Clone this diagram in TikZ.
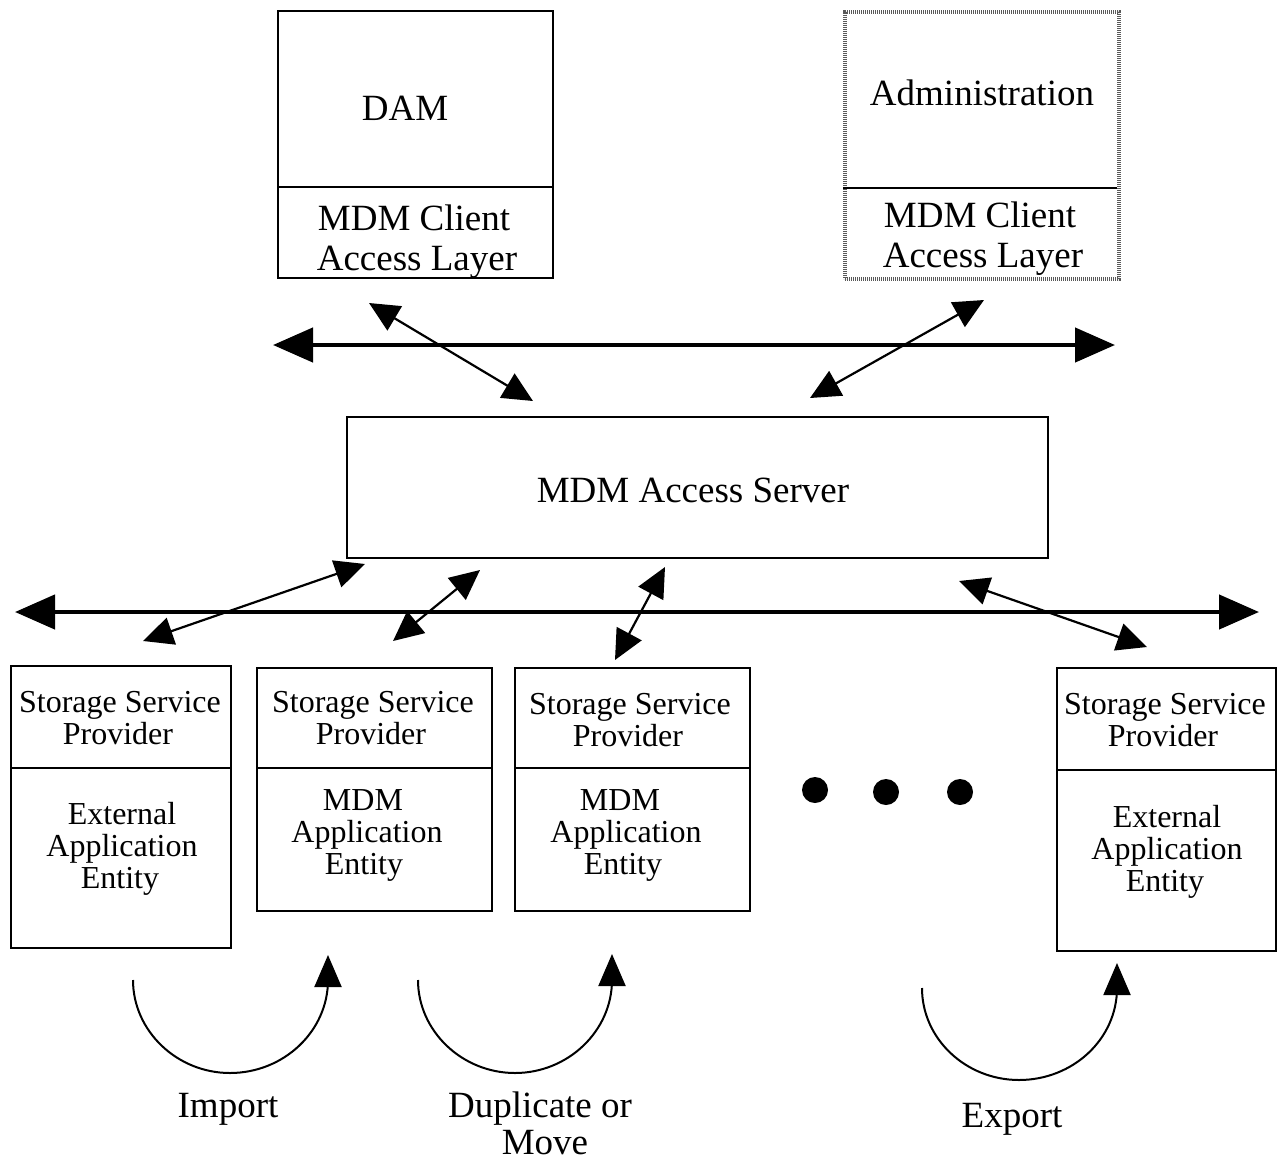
\documentclass[tikz,border=0pt]{standalone}
\usepackage{fontspec}
\setmainfont{Liberation Serif}
\usetikzlibrary{arrows.meta}
\begin{document}
\begin{tikzpicture}[x=1pt,y=-1pt,
 big/.style={font=\fontsize{37}{40}\selectfont},
 small/.style={font=\fontsize{32}{32}\selectfont},
 txt/.style={anchor=base, inner sep=0pt},
 box/.style={draw, line width=2pt, anchor=north west, inner sep=0pt, rectangle},
 dotbox/.style={draw=black!65, line width=3.5pt, dash pattern=on 1.2pt off 0.8pt, anchor=north west, inner sep=0pt, rectangle},
 divider/.style={line width=2pt},
 bus/.style={line width=4.5pt, {Triangle[length=40pt,width=34pt]}-{Triangle[length=40pt,width=34pt]}},
 link/.style={line width=2.2pt, {Triangle[length=30pt,width=28pt]}-{Triangle[length=30pt,width=28pt]}},
 turn/.style={line width=2pt, -{Triangle[length=32pt,width=27pt]}},
 dot/.style={circle, fill, inner sep=0pt, minimum size=26pt}]
\useasboundingbox (0,0) rectangle (1278,1160);

% top boxes
\node[box, minimum width=275, minimum height=267] (dam) at (277,10) {};
\draw[divider] (277,187) -- (552,187);
\node[txt, big] (damt) at (405,120) {DAM};
\node[txt, big] (damc1) at (414,230) {MDM Client};
\node[txt, big] (damc2) at (417,270) {Access Layer};

\node[dotbox, minimum width=274, minimum height=267] (adm) at (843,10) {};
\draw[divider] (843,188) -- (1117,188);
\node[txt, big] (admt) at (982,105) {Administration};
\node[txt, big] (admc1) at (980,227) {MDM Client};
\node[txt, big] (admc2) at (983,267) {Access Layer};

% server
\node[box, minimum width=701, minimum height=141] (srv) at (346,416) {};
\node[txt, big] (srvt) at (693,502) {MDM Access Server};

% buses
\coordinate (tbl) at (273,345); \coordinate (tbr) at (1115,345);
\draw[bus] (tbl) -- (tbr);
\coordinate (bbl) at (15,612); \coordinate (bbr) at (1259,612);
\draw[bus] (bbl) -- (bbr);

% links
\coordinate (l1a) at (369,303); \coordinate (l1b) at (533,401);
\draw[link] (l1a) -- (l1b);
\coordinate (l2a) at (984,300); \coordinate (l2b) at (810,398);
\draw[link] (l2a) -- (l2b);
\coordinate (l3a) at (365,564); \coordinate (l3b) at (143,641);
\draw[link] (l3a) -- (l3b);
\coordinate (l4a) at (480,570); \coordinate (l4b) at (393,641);
\draw[link] (l4a) -- (l4b);
\coordinate (l5a) at (665,567); \coordinate (l5b) at (615,660);
\draw[link] (l5a) -- (l5b);
\coordinate (l6a) at (959,581); \coordinate (l6b) at (1147,647);
\draw[link] (l6a) -- (l6b);

% bottom boxes
\node[box, minimum width=220, minimum height=282] (b1) at (10,665) {};
\draw[divider] (10,768) -- (230,768);
\node[txt, small] at (120,712) {Storage Service};
\node[txt, small] at (118,744) {Provider};
\node[txt, small] at (122,824) {External};
\node[txt, small] at (122,856) {Application};
\node[txt, small] at (120,888) {Entity};

\node[box, minimum width=235, minimum height=243] (b2) at (256,667) {};
\draw[divider] (256,768) -- (491,768);
\node[txt, small] at (373,712) {Storage Service};
\node[txt, small] at (371,744) {Provider};
\node[txt, small] at (363,810) {MDM};
\node[txt, small] at (367,842) {Application};
\node[txt, small] at (364,874) {Entity};

\node[box, minimum width=235, minimum height=243] (b3) at (514,667) {};
\draw[divider] (514,768) -- (749,768);
\node[txt, small] at (630,714) {Storage Service};
\node[txt, small] at (628,746) {Provider};
\node[txt, small] at (620,810) {MDM};
\node[txt, small] at (626,842) {Application};
\node[txt, small] at (623,874) {Entity};

\node[box, minimum width=219, minimum height=283] (b4) at (1056,667) {};
\draw[divider] (1056,770) -- (1275,770);
\node[txt, small] at (1165,714) {Storage Service};
\node[txt, small] at (1163,746) {Provider};
\node[txt, small] at (1167,827) {External};
\node[txt, small] at (1167,859) {Application};
\node[txt, small] at (1165,891) {Entity};

% dots
\node[dot] (d1) at (815,790) {};
\node[dot] (d2) at (886,792) {};
\node[dot] (d3) at (960,792) {};

% curved arrows
\coordinate (i0) at (133,980); \coordinate (i1) at (328,955);
\draw[turn] (i0) .. controls (133,1031) and (177,1073) .. (230,1073)
  .. controls (284,1073) and (328,1031) .. (328,980) -- (i1);
\node[txt, big] (imp) at (228,1117) {Import};

\coordinate (m0) at (418,980); \coordinate (m1) at (612,954);
\draw[turn] (m0) .. controls (418,1031) and (462,1073) .. (515,1073)
  .. controls (568,1073) and (612,1031) .. (612,980) -- (m1);
\node[txt, big] (dup1) at (540,1117) {Duplicate or};
\node[txt, big] (dup2) at (545,1154) {Move};

\coordinate (e0) at (922,988); \coordinate (e1) at (1117,963);
\draw[turn] (e0) .. controls (922,1039) and (966,1080) .. (1019,1080)
  .. controls (1073,1080) and (1117,1039) .. (1117,988) -- (e1);
\node[txt, big] (exp) at (1012,1127) {Export};
\end{tikzpicture}
\end{document}
